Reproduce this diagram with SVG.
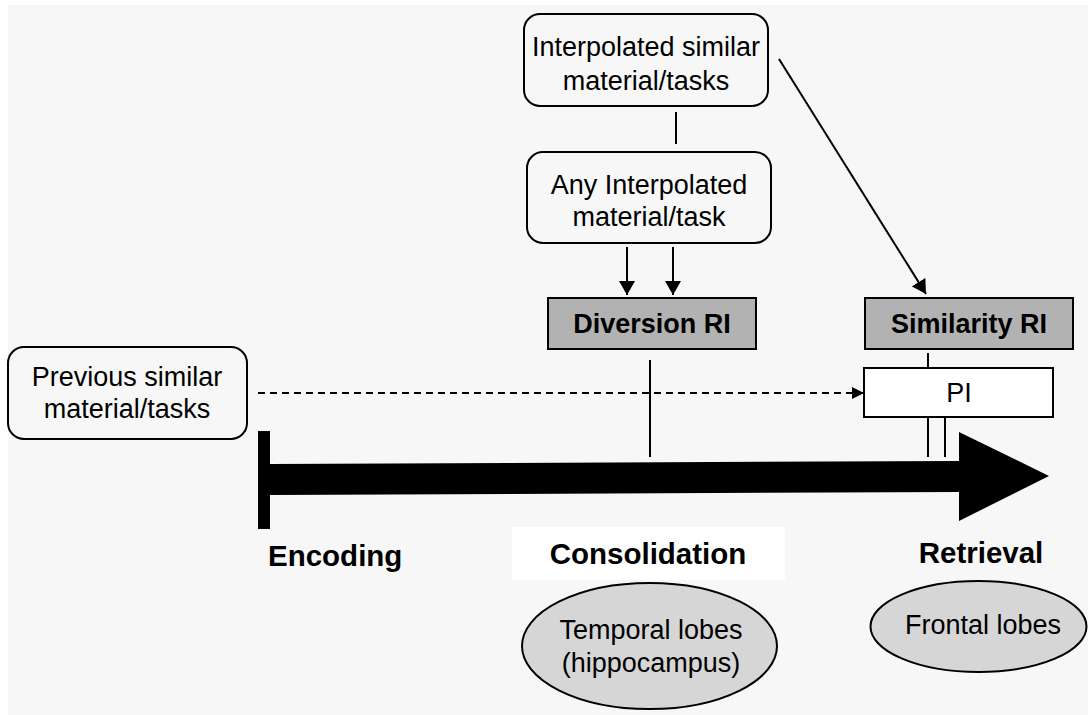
<svg xmlns="http://www.w3.org/2000/svg" width="1088" height="715" viewBox="0 0 1088 715">
<style>
.box{fill:#ffffff;stroke:#000;stroke-width:2}
.rbox{fill:#f7f7f7;stroke:#000;stroke-width:2}
.gbox{fill:#b2b2b2;stroke:#000;stroke-width:2}
.ell{fill:#d6d6d6;stroke:#000;stroke-width:2}
.t{font-family:"Liberation Sans",Arial,sans-serif;font-size:27px;fill:#000;text-anchor:middle}
.b{font-family:"Liberation Sans",Arial,sans-serif;font-size:27px;font-weight:bold;fill:#000;text-anchor:middle}
.lab{font-family:"Liberation Sans",Arial,sans-serif;font-size:29.5px;font-weight:bold;fill:#000}
.ln{stroke:#000;stroke-width:2;fill:none}
</style>
<defs>
<marker id="ah" markerWidth="12" markerHeight="12" viewBox="0 0 12 12" refX="12" refY="6" orient="auto" markerUnits="userSpaceOnUse">
<path d="M0,0 L12,6 L0,12 Z" fill="#000"/>
</marker>
<marker id="ah2" markerWidth="14" markerHeight="16" viewBox="0 0 14 16" refX="14" refY="8" orient="auto" markerUnits="userSpaceOnUse">
<path d="M0,0 L14,8 L0,16 Z" fill="#000"/>
</marker>
</defs>
<rect x="0" y="0" width="1088" height="715" fill="#ffffff"/>
<rect x="8" y="5" width="1080" height="710" fill="#f7f7f7"/>

<g id="timeline">
<rect x="258" y="431" width="12" height="98" fill="#000"/>
<polygon points="270,464 959,461 959,432 1049,476 959,521 959,492 270,495" fill="#000"/>
</g>

<g id="connectors">
<line class="ln" x1="676" y1="112" x2="676" y2="144"/>
<line class="ln" x1="627" y1="247" x2="627" y2="295" marker-end="url(#ah2)"/>
<line class="ln" x1="673" y1="247" x2="673" y2="295" marker-end="url(#ah2)"/>
<line class="ln" x1="779" y1="59" x2="926" y2="294" marker-end="url(#ah2)"/>
<line class="ln" x1="928" y1="353" x2="928" y2="368"/>
<line class="ln" x1="258" y1="393" x2="864" y2="393" stroke-dasharray="7 5" marker-end="url(#ah)"/>
<line class="ln" x1="650" y1="360" x2="650" y2="457"/>
<line class="ln" x1="928" y1="418" x2="928" y2="457"/>
<line class="ln" x1="945" y1="418" x2="945" y2="457"/>
</g>

<g id="interpolated-similar">
<rect class="rbox" x="524" y="14" width="244" height="92" rx="16"/>
<text class="t" x="646" y="56">Interpolated similar</text>
<text class="t" x="646" y="90">material/tasks</text>
</g>

<g id="any-interpolated">
<rect class="rbox" x="527" y="152" width="244" height="91" rx="16"/>
<text class="t" x="649" y="194">Any Interpolated</text>
<text class="t" x="649" y="226">material/task</text>
</g>

<g id="diversion-ri">
<rect class="gbox" x="548" y="298" width="208" height="51"/>
<text class="b" x="652" y="333">Diversion RI</text>
</g>

<g id="similarity-ri">
<rect class="gbox" x="865" y="298" width="208" height="51"/>
<text class="b" x="969" y="333">Similarity RI</text>
</g>

<g id="pi">
<rect class="box" x="864" y="368" width="189" height="49"/>
<text class="t" x="959" y="402">PI</text>
</g>

<g id="previous-similar">
<rect class="rbox" x="8" y="347" width="239" height="92" rx="16"/>
<text class="t" x="127" y="386">Previous similar</text>
<text class="t" x="127" y="418">material/tasks</text>
</g>

<g id="encoding">
<text class="lab" x="268" y="566">Encoding</text>
</g>

<g id="consolidation">
<rect x="512" y="527" width="273" height="53" fill="#ffffff"/>
<text class="lab" x="648" y="564" text-anchor="middle">Consolidation</text>
</g>

<g id="retrieval">
<text class="lab" x="981" y="563" text-anchor="middle">Retrieval</text>
</g>

<g id="temporal-lobes">
<ellipse class="ell" cx="649.5" cy="646" rx="127.5" ry="63"/>
<text class="t" x="651" y="639">Temporal lobes</text>
<text class="t" x="651" y="672">(hippocampus)</text>
</g>

<g id="frontal-lobes">
<ellipse class="ell" cx="978.5" cy="626.5" rx="108" ry="45.5"/>
<text class="t" x="983" y="634">Frontal lobes</text>
</g>
</svg>
